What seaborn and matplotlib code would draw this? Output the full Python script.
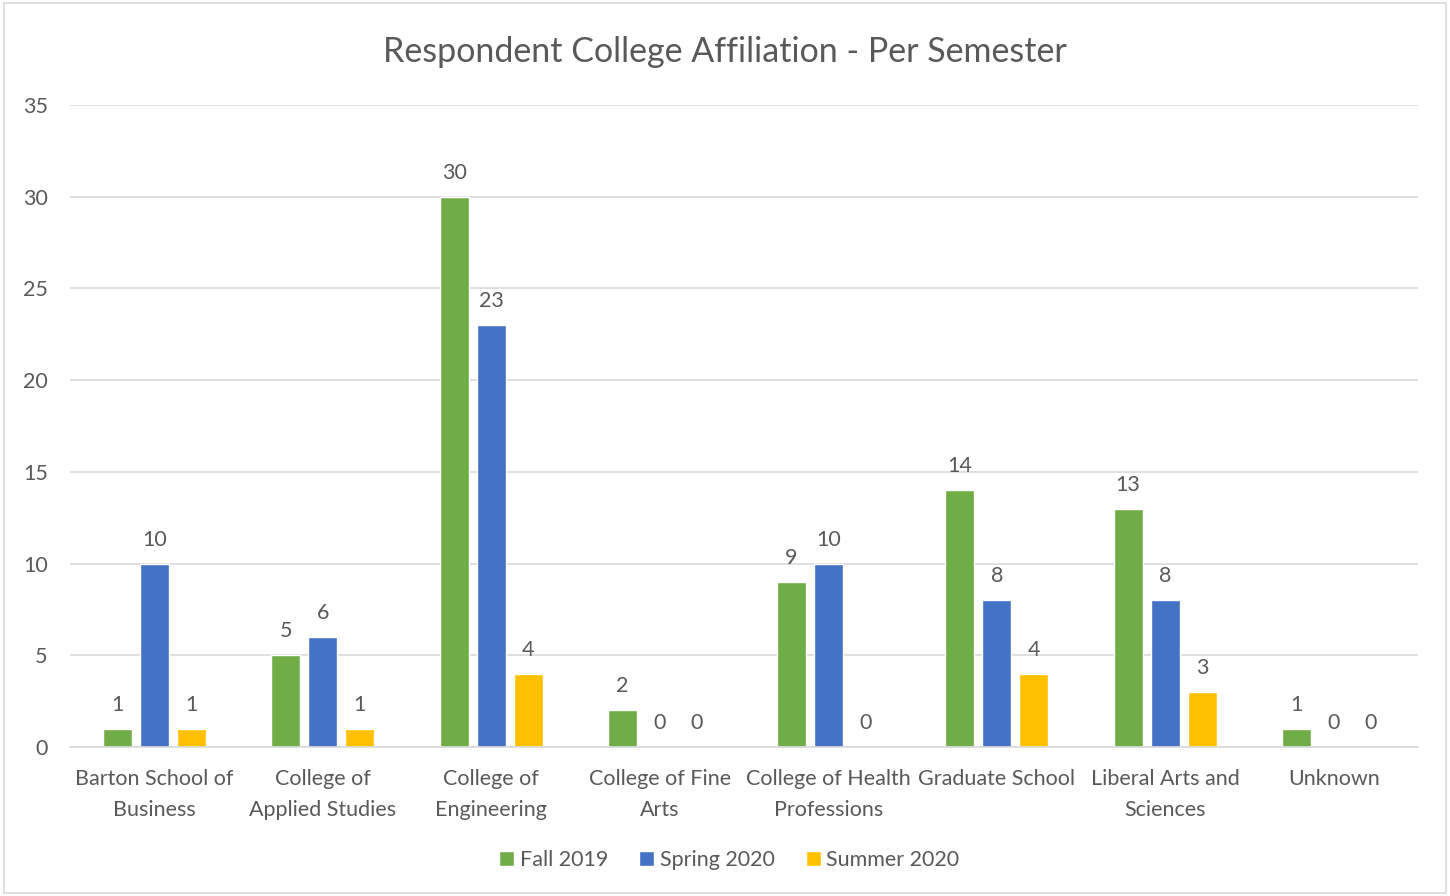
import matplotlib
matplotlib.use("Agg")
import matplotlib.pyplot as plt
import seaborn as sns
import pandas as pd
from matplotlib.patches import Rectangle

categories = ["Barton School of\nBusiness", "College of\nApplied Studies", "College of\nEngineering",
              "College of Fine\nArts", "College of Health\nProfessions", "Graduate School",
              "Liberal Arts and\nSciences", "Unknown"]
fall_2019 = [1, 5, 30, 2, 9, 14, 13, 1]
spring_2020 = [10, 6, 23, 0, 10, 8, 8, 0]
summer_2020 = [1, 1, 4, 0, 0, 4, 3, 0]
series_names = ["Fall 2019", "Spring 2020", "Summer 2020"]
colors = ["#70AD47", "#4472C4", "#FFC000"]

rows = []
for name, vals in zip(series_names, [fall_2019, spring_2020, summer_2020]):
    for c, v in zip(categories, vals):
        rows.append({"College": c, "Semester": name, "Count": v})
df = pd.DataFrame(rows)

sns.set_theme(style="white")
plt.rcParams['font.family'] = ['Lato', 'DejaVu Sans']
text_color = "#595959"
fs = 15.5

fig = plt.figure(figsize=(14.5, 8.96), dpi=100)
ax = fig.add_axes([70/1450, 1-747/896, (1418-70)/1450, (747-105)/896])

sns.barplot(data=df, x="College", y="Count", hue="Semester", palette=colors,
            order=categories, hue_order=series_names, width=0.66, gap=0.22,
            ax=ax, legend=True, saturation=1)

ax.set_ylim(0, 35)
ax.set_xlim(-0.5, len(categories) - 0.5)
ax.set_yticks(range(0, 36, 5))
ax.yaxis.grid(True, color="#D9D9D9", linewidth=1.2)
ax.set_axisbelow(True)
for s in ["top", "right", "left"]:
    ax.spines[s].set_visible(False)
ax.spines["bottom"].set_color("#D9D9D9")
ax.spines["bottom"].set_linewidth(1.2)
ax.set_xlabel("")
ax.set_ylabel("")
ax.tick_params(axis="both", length=0, colors=text_color, labelsize=fs)
ax.tick_params(axis="x", pad=16)
ax.tick_params(axis="y", pad=16)
for lbl in ax.get_xticklabels():
    lbl.set_linespacing(1.65)

for cont in ax.containers:
    ax.bar_label(cont, fmt="%d", padding=10, fontsize=fs, color=text_color)

leg = ax.get_legend()
leg.remove()
handles, labels = ax.get_legend_handles_labels()
fig.legend(handles, labels, loc="center", bbox_to_anchor=(0.503, 1-860/896), ncol=3,
           frameon=False, fontsize=fs, handlelength=0.7, handleheight=0.7,
           handletextpad=0.25, columnspacing=1.45, labelcolor=text_color)

fig.suptitle("Respondent College Affiliation - Per Semester", x=0.5, y=1-52/896,
             va="center", fontsize=24.5, color=text_color)

fig.patches.append(Rectangle((0.003, 0.003), 0.994, 0.994, transform=fig.transFigure,
                             fill=False, edgecolor="#D9D9D9", linewidth=1.2))

fig.savefig("out.png", dpi=100)
